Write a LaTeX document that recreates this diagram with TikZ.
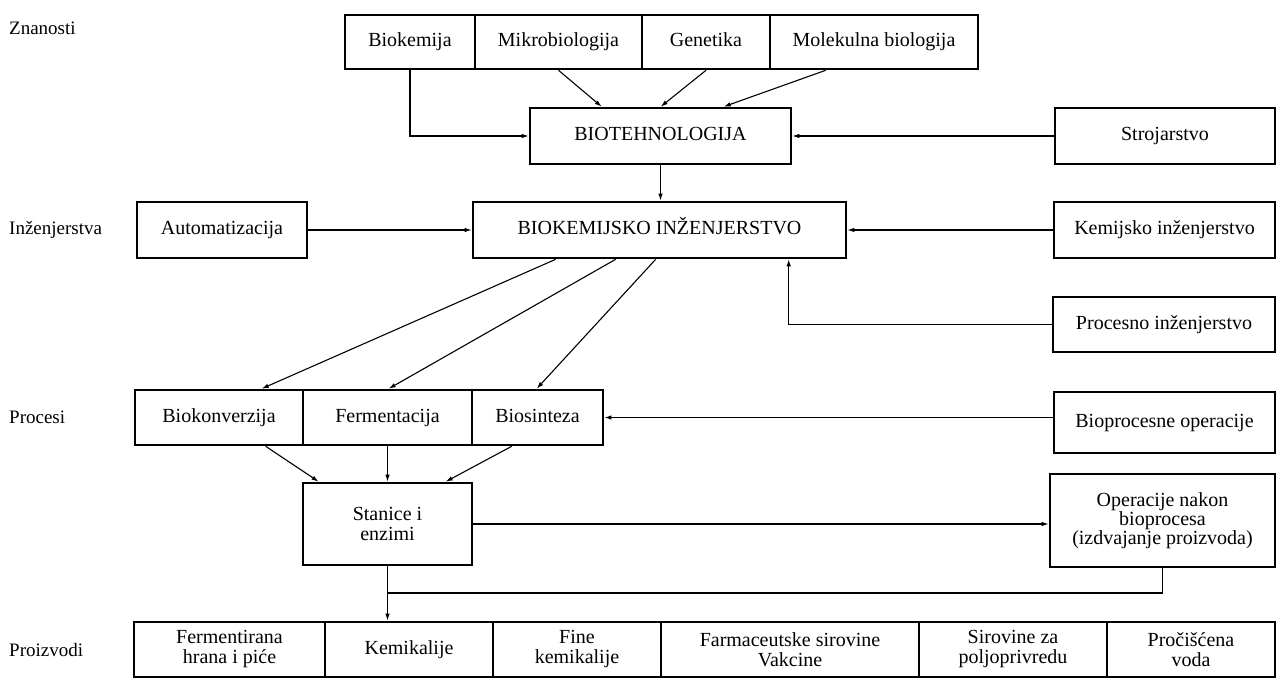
\documentclass[tikz,border=0pt]{standalone}
\usepackage{fontspec}
\setmainfont{Liberation Serif}
\usetikzlibrary{arrows.meta,calc}
\begin{document}
\begin{tikzpicture}[x=1pt,y=-1pt,
  box/.style={draw,line width=2.6pt,rectangle,inner sep=0pt,align=center,
    font=\fontsize{20}{20}\selectfont},
  sbox/.style={box,text height=13.5pt,text depth=4pt},
  lbl/.style={anchor=west,inner sep=0pt,font=\fontsize{19}{20}\selectfont},
  con/.style={line width=1.1pt},
  arr/.style={line width=1.1pt,-{Latex[length=7pt,width=4.5pt]}}]
\useasboundingbox[fill=white] (0,0) rectangle (1277,679);
% left labels
\node[lbl] (lz) at (9,28) {Znanosti};
\node[lbl] (li) at (9,230) {Inženjerstva};
\node[lbl] (lp) at (9,417) {Procesi};
\node[lbl] (lr) at (9,650) {Proizvodi};
% top row
\node[sbox,minimum width=130pt,minimum height=54pt] (bio) at (410,42) {Biokemija};
\node[sbox,minimum width=167pt,minimum height=54pt] (mik) at (558.5,42) {Mikrobiologija};
\node[sbox,minimum width=128pt,minimum height=54pt] (gen) at (706,42) {Genetika};
\node[sbox,minimum width=208pt,minimum height=54pt] (mol) at (874,42) {Molekulna biologija};
% biotechnology
\node[sbox,minimum width=261pt,minimum height=56pt] (bt) at (660.5,136) {BIOTEHNOLOGIJA};
\node[sbox,minimum width=220pt,minimum height=56pt] (stroj) at (1165,136) {Strojarstvo};
% engineering
\node[sbox,minimum width=373pt,minimum height=56pt] (bk) at (659.5,230) {BIOKEMIJSKO INŽENJERSTVO};
\node[sbox,minimum width=170pt,minimum height=56pt] (auto) at (222,230) {Automatizacija};
\node[sbox,minimum width=221pt,minimum height=56pt] (kem) at (1164.5,230) {Kemijsko inženjerstvo};
\node[sbox,minimum width=222pt,minimum height=55pt] (proc) at (1164,324.5) {Procesno inženjerstvo};
% processes
\node[sbox,minimum width=168pt,minimum height=55pt] (biok) at (219,417.5) {Biokonverzija};
\node[sbox,minimum width=169pt,minimum height=55pt] (ferm) at (387.5,417.5) {Fermentacija};
\node[sbox,minimum width=131pt,minimum height=55pt] (bios) at (537.5,417.5) {Biosinteza};
\node[sbox,minimum width=221pt,minimum height=61pt] (bop) at (1164.5,422.5) {Bioprocesne operacije};
\node[box,minimum width=169pt,minimum height=82pt] (stan) at (387.5,524) {Stanice i\\enzimi};
\node[box,minimum width=225pt,minimum height=93pt,font=\fontsize{20}{18}\selectfont] (oper) at (1162.5,520.5) {Operacije nakon\\bioprocesa\\(izdvajanje proizvoda)};
% products
\node[box,minimum width=191pt,minimum height=55pt] (p1) at (229.5,649.5) {Fermentirana\\hrana i piće};
\node[sbox,minimum width=168pt,minimum height=55pt] (p2) at (409,649.5) {Kemikalije};
\node[box,minimum width=168pt,minimum height=55pt] (p3) at (577,649.5) {Fine\\kemikalije};
\node[box,minimum width=258pt,minimum height=55pt] (p4) at (790,649.5) {Farmaceutske sirovine\\Vakcine};
\node[box,minimum width=188pt,minimum height=55pt] (p5) at (1013,649.5) {Sirovine za\\poljoprivredu};
\node[box,minimum width=168pt,minimum height=55pt] (p6) at (1191,649.5) {Pročišćena\\voda};
% connectors: sciences -> biotechnology
\draw[arr] (bio.south) |- (bt.west);
\draw[arr] (mik.south) -- ([xshift=73pt]bt.north west);
\draw[arr] (gen.south) -- ([xshift=132pt]bt.north west);
\draw[arr] ([xshift=57pt]mol.south west) -- ([xshift=195pt]bt.north west);
\draw[arr] (stroj.west) -- (bt.east);
\draw[arr] (bt.south) -- (bt.south |- bk.north);
% engineering
\draw[arr] (auto.east) -- (bk.west);
\draw[arr] (kem.west) -- (bk.east);
\coordinate (pk) at ([xshift=317pt]bk.south west);
\draw[arr] (proc.west) -| (pk);
% biochemical engineering -> processes
\draw[arr] ([xshift=84pt]bk.south west) -- ([xshift=128pt]biok.north west);
\draw[arr] ([xshift=144pt]bk.south west) -- ([xshift=87pt]ferm.north west);
\draw[arr] ([xshift=184pt]bk.south west) -- ([xshift=66pt]bios.north west);
\draw[arr] (bop.west |- bios.east) -- (bios.east);
% processes -> cells
\draw[arr] ([xshift=132pt]biok.south west) -- ([xshift=17pt]stan.north west);
\draw[arr] (ferm.south) -- (stan.north);
\draw[arr] ([xshift=41pt]bios.south west) -- ([xshift=144pt]stan.north west);
\draw[arr] (stan.east) -- (stan.east -| oper.west);
% to products
\coordinate (jn) at (387.5,593);
\draw[con] (oper.south) |- (jn);
\draw[arr] (stan.south) -- (stan.south |- p2.north);
\end{tikzpicture}
\end{document}
